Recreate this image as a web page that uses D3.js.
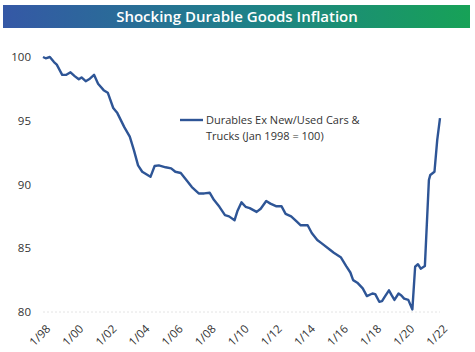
<!DOCTYPE html>
<html>
<head>
<meta charset="utf-8">
<script src="https://cdn.jsdelivr.net/npm/d3@7"></script>
<style>
body{margin:0;background:#fff;}
svg{display:block;}
text{font-family:"Open Sans","Noto Sans",sans-serif;}
</style>
</head>
<body>
<script>
var WIDTH = 475,
	HEIGHT = 352

var months = ["1998-01","1998-03","1998-06","1998-09","1998-11","1999-03","1999-06","1999-09","1999-12",
	"2000-03","2000-05","2000-08","2000-11","2001-02","2001-05","2001-09","2001-12","2002-04","2002-07","2002-12",
	"2003-04","2003-07","2003-10","2004-01","2004-07","2004-10","2005-01","2005-06","2005-10","2006-01","2006-05",
	"2006-09","2007-01","2007-06","2007-10","2008-02","2008-05","2008-09","2009-01","2009-04","2009-08","2009-10",
	"2010-01","2010-04","2010-07","2010-12","2011-03","2011-07","2011-10","2012-02","2012-06","2012-09","2013-01",
	"2013-05","2013-08","2014-01","2014-04","2014-08","2014-11","2015-05","2015-08","2016-01","2016-05","2016-08",
	"2016-10","2017-01","2017-05","2017-08","2017-12","2018-02","2018-05","2018-07","2018-09","2018-12","2019-02",
	"2019-04","2019-07","2019-09","2019-11","2020-02","2020-05","2020-07","2020-09","2020-11","2021-02","2021-05",
	"2021-06","2021-09","2021-11","2022-01"]

var values = [100.0,99.9,100.0,99.6,99.4,98.6,98.6,98.8,98.5,
	98.25,98.4,98.1,98.3,98.6,97.9,97.4,97.2,96.0,95.6,94.5,
	93.75,92.7,91.5,91.0,90.6,91.45,91.5,91.35,91.27,91.0,90.9,
	90.35,89.8,89.3,89.3,89.35,88.8,88.25,87.6,87.5,87.2,87.9,
	88.6,88.25,88.15,87.85,88.1,88.7,88.5,88.3,88.3,87.7,87.5,
	87.1,86.8,86.8,86.2,85.65,85.4,84.9,84.65,84.3,83.6,83.1,
	82.5,82.3,81.85,81.25,81.45,81.4,80.8,80.85,81.2,81.7,81.3,
	80.95,81.45,81.3,81.05,80.95,80.2,83.55,83.75,83.4,83.6,90.35,
	90.75,91.0,93.5,95.2]

var yTicks = [80,85,90,95,100]
var xTickYears = [1998,2000,2002,2004,2006,2008,2010,2012,2014,2016,2018,2020,2022]
var title = "Shocking Durable Goods Inflation"
var legendLines = ["Durables Ex New/Used Cars &","Trucks (Jan 1998 = 100)"]

var parse = d3.timeParse("%Y-%m")
var data = months.map(function(m,i){
	return {date: parse(m), value: values[i]}
})

var svg = d3.select('body')
	.append('svg')
		.attr('width',WIDTH)
		.attr('height',HEIGHT)

var grad = svg.append('defs').append('linearGradient')
	.attr('id','banner')
	.attr('x1','0%').attr('x2','100%')
grad.append('stop').attr('offset','0%').attr('stop-color','#3558a6')
grad.append('stop').attr('offset','50%').attr('stop-color','#1f7f8a')
grad.append('stop').attr('offset','100%').attr('stop-color','#17a257')

svg.append('rect')
	.attr('x',3).attr('y',5)
	.attr('width',467).attr('height',23)
	.attr('fill','url(#banner)')

svg.append('text')
	.attr('x',237).attr('y',22)
	.attr('text-anchor','middle')
	.attr('fill','#fff')
	.style('font-size','15px')
	.style('font-weight',600)
	.text(title)

var x = d3.scaleTime()
	.domain([new Date(1998,0,1), new Date(2022,0,1)])
	.range([43,440])

var y = d3.scaleLinear()
	.domain([80,100])
	.range([312,57])

svg.append('line')
	.attr('x1',x.range()[0]).attr('x2',x.range()[1])
	.attr('y1',y(80)).attr('y2',y(80))
	.attr('stroke','#e4e4e4')
	.attr('stroke-dasharray','2,2')

var yAxis = svg.append('g')
	.attr('transform','translate(31,0)')
	.call(d3.axisLeft(y).tickValues(yTicks).tickSize(0).tickPadding(0))
yAxis.select('.domain').remove()
yAxis.selectAll('text')
	.attr('fill','#333')
	.style('font-size','11.5px')

var xAxis = svg.append('g')
	.attr('transform','translate(2,'+(y(80)+12)+')')
	.call(d3.axisBottom(x)
		.tickValues(xTickYears.map(function(yr){ return new Date(yr,0,1) }))
		.tickFormat(d3.timeFormat('%-m/%y'))
		.tickSize(0).tickPadding(0))
xAxis.select('.domain').remove()
xAxis.selectAll('text')
	.attr('fill','#333')
	.style('font-size','11.5px')
	.attr('text-anchor','end')
	.attr('dy','0.7em')
	.attr('transform','rotate(-45)')

var line = d3.line()
	.x(function(d){ return x(d.date) })
	.y(function(d){ return y(d.value) })

svg.append('path')
	.datum(data)
	.attr('d',line)
	.attr('fill','none')
	.attr('stroke','#2e5596')
	.attr('stroke-width',2.4)
	.attr('stroke-linejoin','round')

var legend = svg.append('g').attr('transform','translate(180,120)')
legend.append('line')
	.attr('x1',0).attr('x2',23)
	.attr('stroke','#2e5596')
	.attr('stroke-width',2.4)
legend.selectAll('text').data(legendLines)
	.enter().append('text')
		.attr('x',26)
		.attr('y',function(d,i){ return i*16 + 4 })
		.attr('fill','#333')
		.style('font-size','11px')
		.text(function(d){ return d })
</script>
</body>
</html>
